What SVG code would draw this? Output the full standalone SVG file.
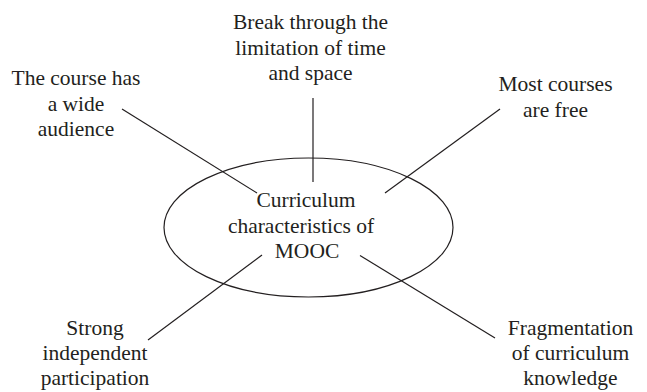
<svg xmlns="http://www.w3.org/2000/svg" width="647" height="392" viewBox="0 0 647 392">
<style>
text{font-family:'Liberation Serif',serif;font-size:21.5px;fill:#231f20;text-anchor:middle}
.c line{stroke:#231f20;stroke-width:1.2}
.e{fill:none;stroke:#231f20;stroke-width:1.2}
</style>
<rect width="647" height="392" fill="#fff"/>
<g id="center"><ellipse class="e" cx="308.5" cy="227.5" rx="144.5" ry="69.5"/>
<text x="306" y="207">Curriculum</text><text x="301" y="233">characteristics of</text><text x="307" y="258">MOOC</text></g>
<g id="n-top"><text x="310.5" y="29">Break through the</text><text x="310.5" y="54.5">limitation of time</text><text x="310.5" y="80">and space</text></g>
<g id="n-topleft"><text x="76" y="85">The course has</text><text x="76" y="110.5">a wide</text><text x="76" y="136">audience</text></g>
<g id="n-topright"><text x="555.5" y="91">Most courses</text><text x="555.5" y="116.5">are free</text></g>
<g id="n-bottomleft"><text x="95" y="335">Strong</text><text x="95" y="360">independent</text><text x="95" y="385">participation</text></g>
<g id="n-bottomright"><text x="570.5" y="335">Fragmentation</text><text x="570.5" y="360">of curriculum</text><text x="570.5" y="385">knowledge</text></g>
<g class="c" id="connectors">
<line x1="122" y1="109" x2="257" y2="193"/>
<line x1="313" y1="98" x2="313" y2="182"/>
<line x1="500" y1="109" x2="385" y2="193"/>
<line x1="262" y1="255" x2="148" y2="340"/>
<line x1="360" y1="255.5" x2="495" y2="338"/>
</g>
</svg>
